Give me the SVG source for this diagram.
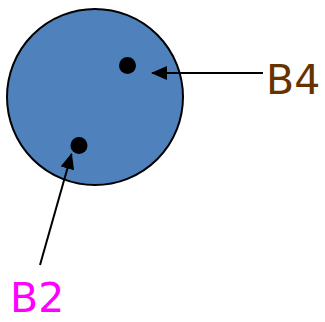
<svg xmlns="http://www.w3.org/2000/svg" width="325" height="322" viewBox="0 0 325 322">
<style>
.lbl{font-family:"DejaVu Sans",sans-serif;font-size:41px}
.con{stroke:#000;stroke-width:2;fill:none;marker-end:url(#ah)}
</style>
<defs>
<marker id="ah" markerWidth="16" markerHeight="14" refX="15" refY="7" orient="auto" markerUnits="userSpaceOnUse">
<path d="M0,0 L16,7 L0,14 Z" fill="#000"/>
</marker>
</defs>
<rect width="325" height="322" fill="#fff"/>
<g id="circle">
<circle cx="95" cy="97" r="88" fill="#4f81bd" stroke="#000" stroke-width="2"/>
<circle cx="127.5" cy="65.5" r="8.5" fill="#000"/>
<circle cx="79" cy="145.5" r="8.5" fill="#000"/>
</g>
<g id="connectors">
<line class="con" x1="263" y1="73" x2="152" y2="73"/>
<line class="con" x1="40" y1="265" x2="71.5" y2="154"/>
</g>
<g id="B4"><text class="lbl" x="266" y="94" fill="#663300">B4</text></g>
<g id="B2"><text class="lbl" x="10" y="312" fill="#ff00ff">B2</text></g>
</svg>
